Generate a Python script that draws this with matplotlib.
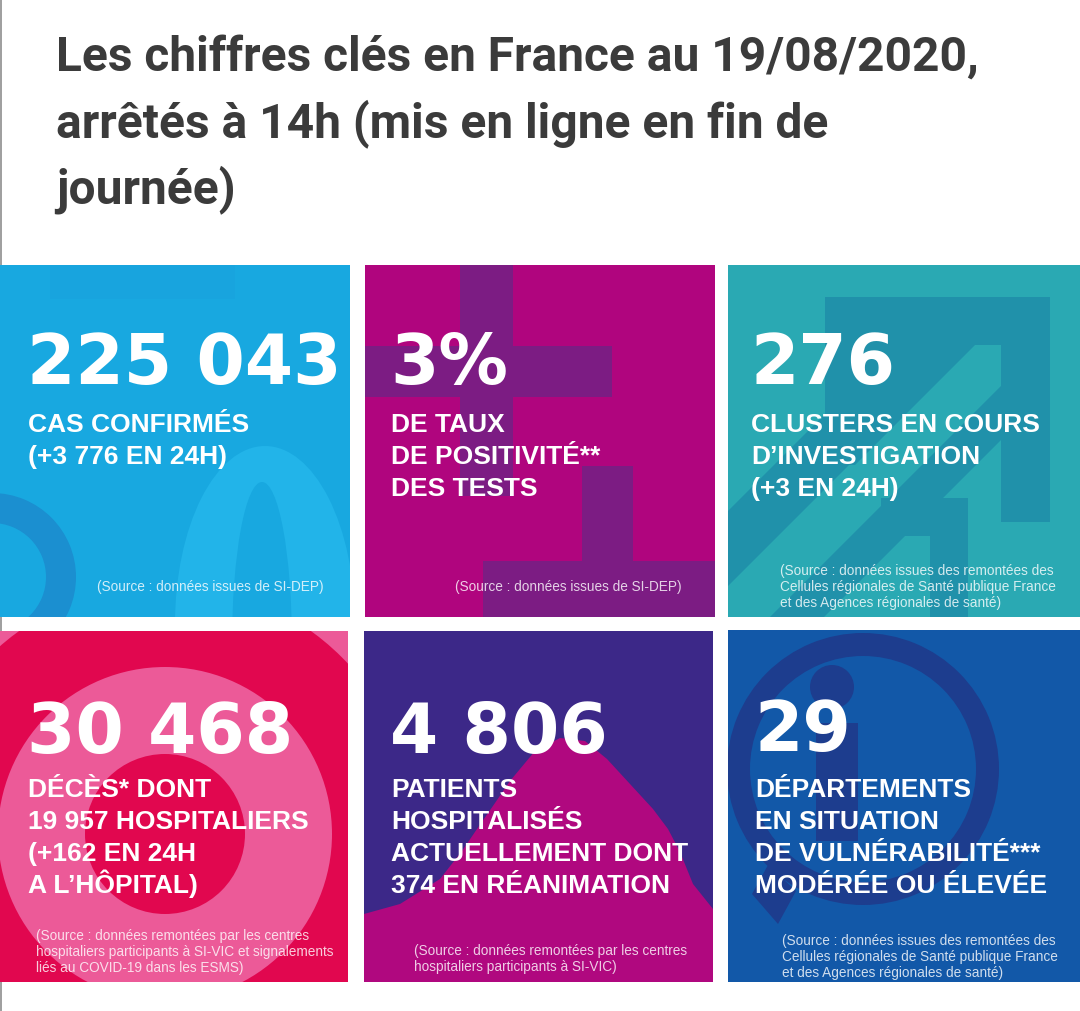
import numpy as np
import matplotlib
matplotlib.use("Agg")
from matplotlib import pyplot as plt
from matplotlib.patches import Rectangle, Circle, Ellipse, Polygon, Wedge

# ---- content -------------------------------------------------------------
title_lines = ["Les chiffres clés en France au 19/08/2020,",
               "arrêtés à 14h (mis en ligne en fin de",
               "journée)"]

key_numbers = ["225 043", "3%", "276", "30 468", "4 806", "29"]

key_labels = [
    ["CAS CONFIRMÉS", "(+3 776 EN 24H)"],
    ["DE TAUX", "DE POSITIVITÉ**", "DES TESTS"],
    ["CLUSTERS EN COURS", "D’INVESTIGATION", "(+3 EN 24H)"],
    ["DÉCÈS* DONT", "19 957 HOSPITALIERS", "(+162 EN 24H", "A L’HÔPITAL)"],
    ["PATIENTS", "HOSPITALISÉS", "ACTUELLEMENT DONT", "374 EN RÉANIMATION"],
    ["DÉPARTEMENTS", "EN SITUATION", "DE VULNÉRABILITÉ***", "MODÉRÉE OU ÉLEVÉE"],
]

key_sources = [
    ["(Source : données issues de SI-DEP)"],
    ["(Source : données issues de SI-DEP)"],
    ["(Source : données issues des remontées des",
     "Cellules régionales de Santé publique France",
     "et des Agences régionales de santé)"],
    ["(Source : données remontées par les centres",
     "hospitaliers participants à SI-VIC et signalements",
     "liés au COVID-19 dans les ESMS)"],
    ["(Source : données remontées par les centres",
     "hospitaliers participants à SI-VIC)"],
    ["(Source : données issues des remontées des",
     "Cellules régionales de Santé publique France",
     "et des Agences régionales de santé)"],
]

tile_colors = ["#18a8e0", "#b0057e", "#2aa9b3", "#ec5a98", "#3c2888", "#1258a8"]

# ---- layout (pixel coordinates) -----------------------------------------
W, H = 1080, 1012
tiles = [(0, 266, 350, 618), (365, 266, 715, 618), (728, 266, 1080, 618),
         (0, 632, 348, 983), (364, 632, 713, 983), (728, 631, 1080, 983)]
text_x = [27, 390, 750, 27, 390, 754]
num_base = [384, 384, 384, 753, 753, 751]
label_base = [[432, 464, 496], [432, 464, 496], [432, 464, 496]] + \
             [[797, 829, 861, 893]] * 3
source_x = [97, 455, 780, 36, 414, 782]
source_first = [591, 591, 575, 940, 955, 945]

fig = plt.figure(figsize=(W / 100, H / 100), dpi=100)
ax = fig.add_axes([0, 0, 1, 1])
ax.set_xlim(0, W)
ax.set_ylim(H, 0)
ax.axis("off")

# title
for i, line in enumerate(title_lines):
    ax.text(56, 71 + i * 66, line, fontsize=34.5, fontfamily="Roboto",
            fontweight="bold", color="#3b3b3b", va="baseline", ha="left")

# thin page border on the left
ax.add_patch(Rectangle((0, 0), 2, H, color="#a0a0a0", lw=0))


def clip_add(p, clip):
    ax.add_patch(p)
    p.set_clip_path(clip)


def diag_band(u0, u1, ya, yb):
    # band between the lines x + y = u0 and x + y = u1
    return [(u0 - ya, ya), (u1 - ya, ya), (u1 - yb, yb), (u0 - yb, yb)]


for k, (x0, y0, x1, y1) in enumerate(tiles):
    bg = Rectangle((x0, y0), x1 - x0, y1 - y0, color=tile_colors[k], lw=0)
    ax.add_patch(bg)

    if k == 0:   # faint "2 0" digits
        clip_add(Rectangle((50, 266), 185, 34, color="#18a4de", lw=0), bg)
        clip_add(Ellipse((265, 625), 180, 356, color="#22b4e9", lw=0), bg)
        clip_add(Ellipse((262, 645), 60, 324, color=tile_colors[0], lw=0), bg)
        clip_add(Wedge((-8, 578), 84, 0, 360, width=30, color="#1b8fd0", lw=0), bg)
    elif k == 1:  # plus / minus blocks
        c = "#7c1c83"
        for (rx, ry, rw, rh) in [(460, 266, 53, 231), (365, 347, 247, 51),
                                 (582, 467, 51, 110), (483, 562, 232, 56)]:
            clip_add(Rectangle((rx, ry), rw, rh, color=c, lw=0), bg)
    elif k == 2:  # double arrow
        c = "#2091aa"
        inner = Rectangle((728, 298), 273, 320, lw=0, fill=False)
        ax.add_patch(inner)
        inner.set_visible(False)
        clip_add(Polygon([(825, 298), (1050, 298), (1050, 523), (1001, 523),
                          (1001, 346), (825, 346)], color=c, lw=0), bg)
        clip_add(Polygon([(825, 346), (975, 346), (855, 466), (825, 466)],
                         color=c, lw=0), bg)
        clip_add(Polygon(diag_band(1240, 1315, 346, 618), color=c, lw=0), inner)
        clip_add(Polygon(diag_band(1388, 1442, 346, 618), color=c, lw=0), inner)
        clip_add(Polygon([(881, 499), (968, 499), (968, 618), (930, 618),
                          (930, 537), (881, 537)], color=c, lw=0), bg)
    elif k == 3:  # target
        for r, c in [(250, "#e1074f"), (167, "#ec5a98"), (80, "#e1074f")]:
            clip_add(Circle((165, 835), r, color=c, lw=0), bg)
    elif k == 4:  # epidemic hill
        hill = [(364, 915), (400, 905), (440, 880), (462, 852), (477, 830),
                (495, 804), (510, 782), (535, 752), (560, 739), (585, 742),
                (607, 760), (630, 785), (653, 810), (668, 830), (680, 853),
                (693, 885), (713, 910), (713, 983), (364, 983)]
        clip_add(Polygon(hill, color="#b0087f", lw=0), bg)
    elif k == 5:  # info bubble
        c = "#1d3d8e"
        clip_add(Wedge((863, 770), 136, 0, 360, width=23, color=c, lw=0), bg)
        clip_add(Polygon([(768, 866), (796, 892), (778, 925), (752, 895)],
                         color=c, lw=0), bg)
        clip_add(Circle((832, 688), 22, color=c, lw=0), bg)
        clip_add(Rectangle((816, 724), 42, 118, color=c, lw=0), bg)

    # texts
    ax.text(text_x[k], num_base[k], key_numbers[k], fontsize=50,
            fontfamily="DejaVu Sans", fontweight="bold", color="white",
            va="baseline", ha="left")
    for j, line in enumerate(key_labels[k]):
        ax.text(text_x[k] + 1, label_base[k][j], line, fontsize=19,
                fontfamily="Liberation Sans", fontweight="bold",
                color="white", va="baseline", ha="left")
    for j, line in enumerate(key_sources[k]):
        ax.text(source_x[k], source_first[k] + j * 16, line, fontsize=9.8,
                fontfamily="Liberation Sans", color="white", alpha=0.8,
                va="baseline", ha="left")

fig.savefig("out.png", dpi=100)
